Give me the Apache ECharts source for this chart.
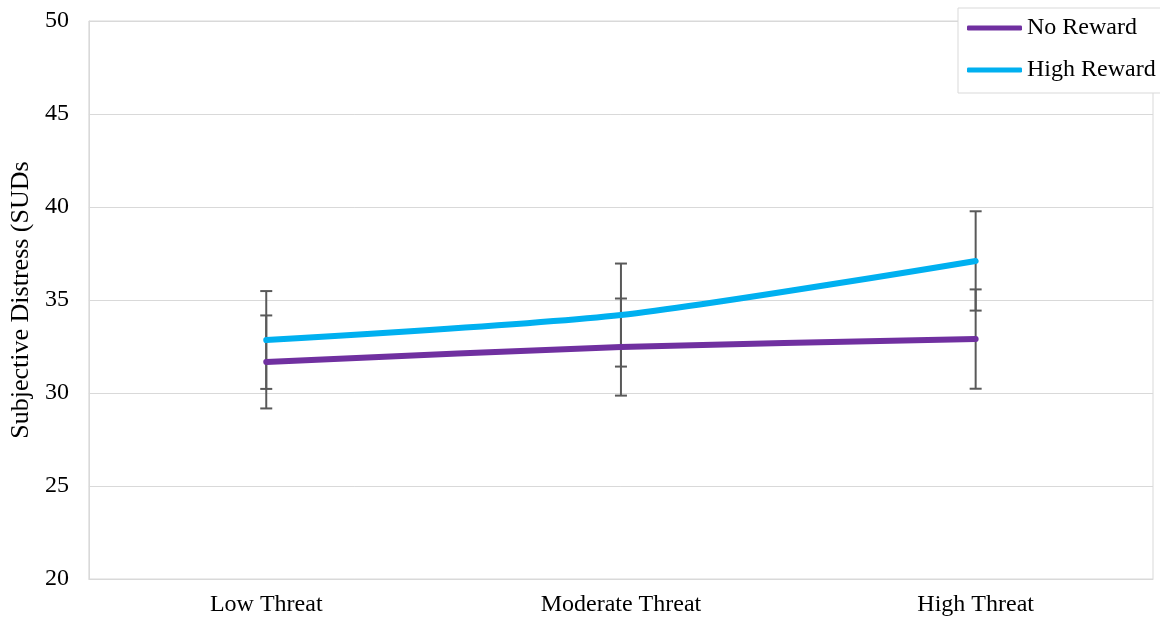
<!DOCTYPE html>
<html>
<head>
<meta charset="utf-8">
<script src="https://cdn.jsdelivr.net/npm/echarts@6/dist/echarts.min.js"></script>
<style>
  html, body { margin: 0; padding: 0; background: #fff; }
  #chart { width: 1160px; height: 620px; }
</style>
</head>
<body>
<div id="chart"></div>
<script>
// Threat conditions on the x axis
const categories = ['Low Threat', 'Moderate Threat', 'High Threat'];

// Mean subjective distress per condition
const noReward = [31.67, 32.47, 32.9];
const highReward = [32.85, 34.19, 37.1];

// Error bar half-widths (± around each mean)
const noRewardErr = [2.5, 2.61, 2.67];
const highRewardErr = [2.63, 2.77, 2.67];

const FONT = '"Liberation Serif", "Times New Roman", serif';
const PURPLE = '#7030a0';
const BLUE = '#00b0f0';
const BAR_GRAY = '#595959';

function errorData(means, errs) {
  return means.map((m, i) => [i, m - errs[i], m + errs[i]]);
}

function renderErrorBar(params, api) {
  const x = api.value(0);
  const lo = api.coord([x, api.value(1)]);
  const hi = api.coord([x, api.value(2)]);
  const cap = 6;
  const style = { stroke: BAR_GRAY, lineWidth: 2 };
  return {
    type: 'group',
    children: [
      { type: 'line', shape: { x1: hi[0], y1: hi[1], x2: lo[0], y2: lo[1] }, style },
      { type: 'line', shape: { x1: hi[0] - cap, y1: hi[1], x2: hi[0] + cap, y2: hi[1] }, style },
      { type: 'line', shape: { x1: lo[0] - cap, y1: lo[1], x2: lo[0] + cap, y2: lo[1] }, style }
    ]
  };
}

const chart = echarts.init(document.getElementById('chart'));
chart.setOption({
  animation: false,
  backgroundColor: '#fff',
  textStyle: { fontFamily: FONT },
  grid: {
    left: 88, right: 7, top: 21, bottom: 41,
    show: true, borderColor: '#d9d9d9', borderWidth: 1
  },
  legend: {
    orient: 'vertical',
    left: 958, top: 8,
    padding: [8, 14, 11, 9],
    itemGap: 18,
    itemWidth: 55,
    itemHeight: 5,
    icon: 'roundRect',
    borderColor: '#d9d9d9',
    borderWidth: 1,
    backgroundColor: '#fff',
    textStyle: { fontFamily: FONT, fontSize: 24, color: '#000' },
    data: ['No Reward', 'High Reward']
  },
  xAxis: {
    type: 'category',
    data: categories,
    boundaryGap: true,
    axisLine: { lineStyle: { color: '#d9d9d9', width: 1 } },
    axisTick: { show: false },
    axisLabel: { color: '#000', fontFamily: FONT, fontSize: 24, margin: 14 }
  },
  yAxis: {
    type: 'value',
    min: 20, max: 50, interval: 5,
    name: 'Subjective Distress (SUDs',
    nameLocation: 'middle',
    nameGap: 50,
    nameTextStyle: { color: '#000', fontFamily: FONT, fontSize: 26 },
    axisLine: { show: true, lineStyle: { color: '#d9d9d9', width: 1 } },
    axisTick: { show: false },
    splitLine: { lineStyle: { color: '#d9d9d9', width: 1 } },
    axisLabel: { color: '#000', fontFamily: FONT, fontSize: 24, margin: 20 }
  },
  series: [
    {
      type: 'custom',
      name: 'No Reward error',
      renderItem: renderErrorBar,
      data: errorData(noReward, noRewardErr),
      z: 1,
      silent: true
    },
    {
      type: 'custom',
      name: 'High Reward error',
      renderItem: renderErrorBar,
      data: errorData(highReward, highRewardErr),
      z: 1,
      silent: true
    },
    {
      name: 'No Reward',
      type: 'line',
      data: noReward,
      smooth: 0.25,
      showSymbol: false,
      symbol: 'none',
      color: PURPLE,
      lineStyle: { color: PURPLE, width: 6, cap: 'round' },
      z: 3
    },
    {
      name: 'High Reward',
      type: 'line',
      data: highReward,
      smooth: 0.25,
      showSymbol: false,
      symbol: 'none',
      color: BLUE,
      lineStyle: { color: BLUE, width: 6, cap: 'round' },
      z: 3
    }
  ]
});
</script>
</body>
</html>
